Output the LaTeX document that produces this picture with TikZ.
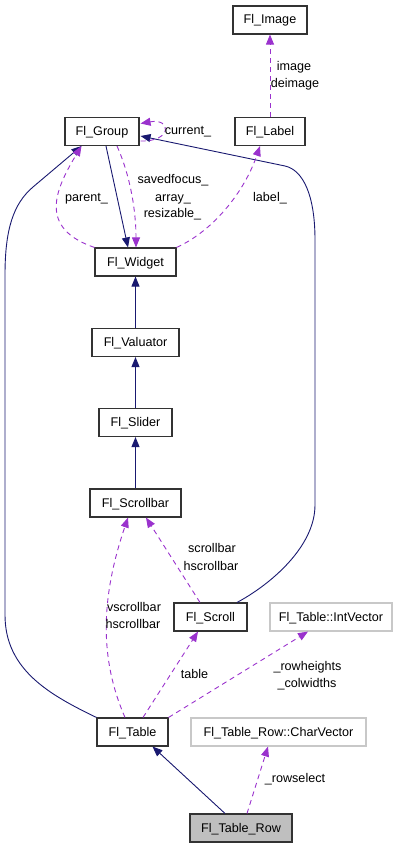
\documentclass[tikz,border=0pt]{standalone}
\usepackage{fontspec}
\setmainfont{Liberation Sans}
\usetikzlibrary{arrows.meta,calc}
\definecolor{navy}{HTML}{191970}
\definecolor{purp}{HTML}{9A32CD}
\definecolor{lgray}{HTML}{C8C8C8}
\definecolor{rowfill}{HTML}{BFBFBF}
\begin{document}
\begin{tikzpicture}[x=1pt,y=-1pt,
  font=\fontsize{12.6}{14}\selectfont,
  cls/.style={draw=black!80, line width=1.1pt, fill=white, inner sep=0pt,
    minimum height=28pt, text height=8pt, text depth=0pt},
  gcls/.style={cls, draw=lgray},
  inh/.style={draw=navy, line width=0.9pt, -{Triangle[length=10pt,width=8pt]}},
  use/.style={draw=purp, line width=0.9pt, dash pattern=on 5pt off 4pt,
    -{Triangle[length=10pt,width=8pt]}},
  lbl/.style={inner sep=0pt, text height=8pt, text depth=0pt}]
\useasboundingbox (0,0) rectangle (407,848);
% classes
\node[cls, minimum width=74pt] (image) at (270,20) {Fl\_Image};
\node[cls, minimum width=70pt] (label) at (270,131.5) {Fl\_Label};
\node[cls, minimum width=74pt] (group) at (102,131.5) {Fl\_Group};
\node[cls, minimum width=81pt] (widget) at (135.5,262) {Fl\_Widget};
\node[cls, minimum width=87pt] (valuator) at (135.5,342.5) {Fl\_Valuator};
\node[cls, minimum width=73pt] (slider) at (135.5,422.5) {Fl\_Slider};
\node[cls, minimum width=91pt] (scrollbar) at (135.5,503) {Fl\_Scrollbar};
\node[cls, minimum width=73pt] (scroll) at (210.5,617) {Fl\_Scroll};
\node[gcls, minimum width=122pt] (intvector) at (331,617) {Fl\_Table::IntVector};
\node[cls, minimum width=71pt] (table) at (132.5,732) {Fl\_Table};
\node[gcls, minimum width=175pt] (charvector) at (278.5,732) {Fl\_Table\_Row::CharVector};
\node[cls, fill=rowfill, minimum width=102pt] (tablerow) at (241,828) {Fl\_Table\_Row};
% inheritance
\draw[inh] ($(tablerow.north)+(-16,0)$) -- ($(table.south)+(20,0)$);
\draw[inh] (valuator.north) -- (widget.south);
\draw[inh] (slider.north) -- (valuator.south);
\draw[inh] (scrollbar.north) -- (slider.south);
\draw[inh] ($(group.south)+(4,0)$) -- ($(widget.north)+(-7.5,0)$);
\draw[inh] ($(scroll.north)+(26.5,0)$) .. controls (268,586) and (315,548) .. (315,505)
  -- (315,240) .. controls (315,195) and (303,170) .. (285,166) -- ($(group.east)+(1,4.5)$);
\draw[inh] (table.north west) .. controls (50,695) and (5,670) .. (5,615)
  -- (5,275) .. controls (5,230) and (13,204) .. (33,187) -- ($(group.south west)+(17,0)$);
% usage
\draw[use] ($(tablerow.north)+(6,0)$) -- ($(charvector.south)+(-10.5,0)$);
\draw[use] ($(table.north)+(10.5,0)$) -- ($(scroll.south)+(-12.5,0)$);
\draw[use] (table.north east) -- ($(intvector.south)+(-23,0)$);
\draw[use] ($(table.north)+(-7.5,0)$) .. controls (100,660) and (100,600) .. ($(scrollbar.south)+(-7.5,0)$);
\draw[use] ($(scroll.north)+(-10.5,0)$) -- ($(scrollbar.south)+(10.5,0)$);
\draw[use] ($(group.south)+(15,0)$) .. controls (130,175) and (136,210) .. ($(widget.north)+(0.5,0)$);
\draw[use] (widget.north west) .. controls (38,228) and (55,190) .. ($(group.south west)+(17,0)$);
\draw[use] (widget.north east) .. controls (215,230) and (245,190) .. ($(label.south)+(-10,0)$);
\draw[use] (label.north) -- (image.south);
\draw[use] ($(group.east)+(1,9.5)$) .. controls (172,142) and (172,118) .. ($(group.east)+(1,-8)$);
% labels
\node[lbl] (limage) at (294,67) {image};
\node[lbl] (ldeimage) at (295,83.5) {deimage};
\node[lbl] (lcurrent) at (188,130.5) {current\_};
\node[lbl] (lsaved) at (173,179) {savedfocus\_};
\node[lbl] (larray) at (173,197) {array\_};
\node[lbl] (lresiz) at (172.5,213.5) {resizable\_};
\node[lbl] (lparent) at (86.5,197) {parent\_};
\node[lbl] (llabel) at (270,197) {label\_};
\node[lbl] (lscroll1) at (212,548.5) {scrollbar};
\node[lbl] (lscroll2) at (211,566) {hscrollbar};
\node[lbl] (lvs) at (134,607.5) {vscrollbar};
\node[lbl] (lhs) at (133,624) {hscrollbar};
\node[lbl] (ltable) at (194.5,674.5) {table};
\node[lbl] (lrowh) at (307.5,666.5) {\_rowheights};
\node[lbl] (lcolw) at (307,683.5) {\_colwidths};
\node[lbl] (lrowsel) at (295,778.5) {\_rowselect};
\end{tikzpicture}
\end{document}
